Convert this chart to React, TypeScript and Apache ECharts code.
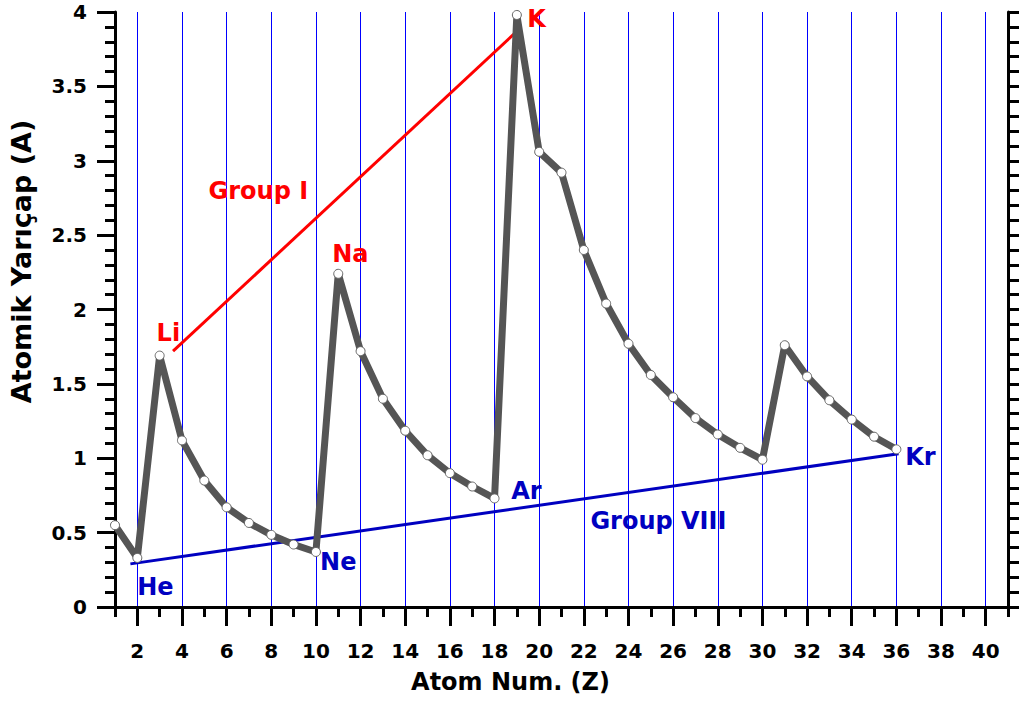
import React, { useEffect, useRef } from "react";
import * as echarts from "echarts";

const atomNumbers = [
  1, 2, 3, 4, 5, 6, 7, 8, 9, 10, 11, 12, 13, 14, 15, 16, 17, 18,
  19, 20, 21, 22, 23, 24, 25, 26, 27, 28, 29, 30, 31, 32, 33, 34, 35, 36,
];
const atomicRadii = [
  0.55, 0.33, 1.69, 1.12, 0.85, 0.67, 0.565, 0.485, 0.42, 0.37,
  2.24, 1.72, 1.4, 1.185, 1.02, 0.9, 0.81, 0.73,
  3.98, 3.06, 2.92, 2.4, 2.04, 1.77, 1.56, 1.41, 1.27, 1.16, 1.07, 0.99,
  1.76, 1.55, 1.39, 1.26, 1.145, 1.06,
];
const xMajorTicks = [2, 4, 6, 8, 10, 12, 14, 16, 18, 20, 22, 24, 26, 28, 30, 32, 34, 36, 38, 40];
const xMinorTicks = [1, 3, 5, 7, 9, 11, 13, 15, 17, 19, 21, 23, 25, 27, 29, 31, 33, 35, 37, 39, 41];

const groupILine = [
  [3.6, 1.72],
  [19.0, 3.87],
];
const groupVIIILine = [
  [1.69, 0.29],
  [36.1, 1.03],
];
const redLabels = [
  ["Li", 3.39, 1.845],
  ["Na", 11.54, 2.37],
  ["K", 19.88, 3.95],
  ["Group I", 7.42, 2.8],
];
const blueLabels = [
  ["He", 2.81, 0.135],
  ["Ne", 11.0, 0.3],
  ["Ar", 19.43, 0.78],
  ["Group VIII", 25.34, 0.58],
  ["Kr", 37.08, 1.01],
];

const FONT = "DejaVu Sans";
const RED = "#ff0000";
const BLUE = "#0000c0";

export default function App() {
  const ref = useRef<HTMLDivElement>(null);
  useEffect(() => {
    document.body.style.margin = "0";
    const chart = echarts.init(ref.current!, null, { renderer: "svg" });
    const tickStyle = { color: "#000", width: 3 };
    const labelSeries = (items: any[], color: string) => ({
      type: "scatter",
      symbolSize: 1,
      itemStyle: { color: "rgba(0,0,0,0)", opacity: 1 },
      silent: true,
      z: 5,
      data: items.map((d) => ({ name: d[0], value: [d[1], d[2]] })),
      label: {
        show: true,
        position: "inside",
        formatter: (p: any) => p.name,
        color,
        opacity: 1,
        fontFamily: FONT,
        fontWeight: "bold",
        fontSize: 24,
      },
    });
    chart.setOption({
      animation: false,
      backgroundColor: "#fff",
      grid: { left: 115, right: 11, top: 12, bottom: 94, containLabel: false },
      xAxis: [
        {
          type: "value",
          min: 1,
          max: 41,
          interval: 1,
          position: "bottom",
          axisLine: { show: true, lineStyle: tickStyle },
          axisTick: { show: true, customValues: xMinorTicks, length: 10, lineStyle: tickStyle },
          axisLabel: { show: false },
          splitLine: { show: false },
        },
        {
          type: "value",
          min: 1,
          max: 41,
          position: "bottom",
          axisLine: { show: false },
          axisTick: { show: true, customValues: xMajorTicks, length: 19, lineStyle: tickStyle },
          axisLabel: {
            show: true,
            customValues: xMajorTicks,
            fontFamily: FONT,
            fontWeight: "bold",
            fontSize: 20,
            color: "#000",
            margin: 34,
          },
          splitLine: { show: true, lineStyle: { color: "#0000ff", width: 1 } },
          name: "Atom Num. (Z)",
          nameLocation: "middle",
          nameGap: 63,
          nameTextStyle: {
            fontFamily: FONT,
            fontWeight: "bold",
            fontSize: 24,
            color: "#000",
            padding: [0, 102, 0, 0],
          },
        },
      ],
      yAxis: [
        {
          type: "value",
          min: 0,
          max: 4,
          interval: 0.5,
          position: "left",
          axisLine: { show: true, lineStyle: tickStyle },
          axisTick: { show: true, length: 18, lineStyle: tickStyle },
          minorTick: { show: true, splitNumber: 5, length: 10, lineStyle: tickStyle },
          axisLabel: {
            show: true,
            fontFamily: FONT,
            fontWeight: "bold",
            fontSize: 20,
            color: "#000",
            margin: 28,
          },
          splitLine: { show: false },
          name: "Atomik Yarıçap (A)",
          nameLocation: "middle",
          nameGap: 80,
          nameTextStyle: {
            fontFamily: FONT,
            fontWeight: "bold",
            fontSize: 27,
            color: "#000",
            padding: [0, 0, 0, 96],
          },
        },
        {
          type: "value",
          min: 0,
          max: 4,
          interval: 0.5,
          position: "right",
          axisLine: { show: true, lineStyle: tickStyle },
          axisTick: { show: true, length: 11, lineStyle: tickStyle },
          minorTick: { show: true, splitNumber: 5, length: 11, lineStyle: tickStyle },
          axisLabel: { show: false },
          splitLine: { show: false },
        },
      ],
      series: [
        {
          type: "line",
          data: groupILine,
          symbol: "none",
          lineStyle: { color: RED, width: 3 },
          silent: true,
          z: 2,
        },
        {
          type: "line",
          data: groupVIIILine,
          symbol: "none",
          lineStyle: { color: BLUE, width: 3 },
          silent: true,
          z: 2,
        },
        {
          type: "line",
          data: atomNumbers.map((z, i) => [z, atomicRadii[i]]),
          symbol: "circle",
          symbolSize: 9,
          showAllSymbol: true,
          lineStyle: { color: "#555555", width: 7 },
          itemStyle: { color: "#ffffff", borderColor: "#666666", borderWidth: 1 },
          z: 3,
        },
        labelSeries(redLabels, RED),
        labelSeries(blueLabels, BLUE),
      ],
    });
    return () => chart.dispose();
  }, []);
  return <div ref={ref} style={{ width: 1019, height: 701 }} />;
}
